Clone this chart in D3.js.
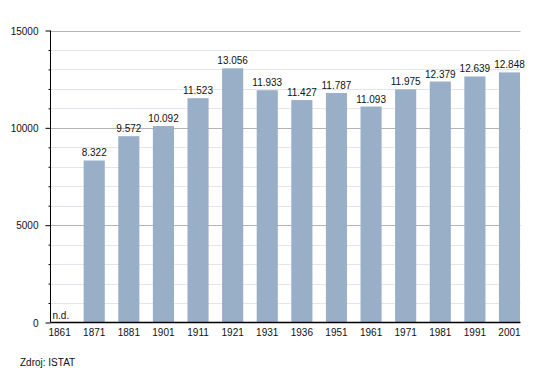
<!DOCTYPE html>
<html><head><meta charset="utf-8">
<script src="https://cdn.jsdelivr.net/npm/d3@7"></script>
<style>body{margin:0;background:#fff}svg{display:block}text{font-family:"Liberation Sans",Arial,sans-serif;font-size:10px;fill:#111}</style>
</head><body>
<svg id="c" width="550" height="373"></svg>
<script>
const years = ["1861","1871","1881","1901","1911","1921","1931","1936","1951","1961","1971","1981","1991","2001"];
const population = [null,8322,9572,10092,11523,13056,11933,11427,11787,11093,11975,12379,12639,12848];
const valueLabels = ["n.d.","8.322","9.572","10.092","11.523","13.056","11.933","11.427","11.787","11.093","11.975","12.379","12.639","12.848"];
const majorTicks = [0,5000,10000,15000];
const minorTicks = d3.range(1000,15000,1000).filter(v=>v%5000!==0);
const source = "Zdroj: ISTAT";

const svg = d3.select("#c");
const mLeft = 50.5, mRight = 520.5, mTop = 30.5, mBottom = 322.5;
const y = d3.scaleLinear().domain([0,15000]).range([mBottom, mTop]);
const x = d3.scaleBand().domain(years).range([42.3, 526.8]).paddingInner(0.39).paddingOuter(0.195);
const FONT = '"Liberation Sans",Arial,sans-serif';

// minor gridlines
svg.append("g").selectAll("line").data(minorTicks).join("line")
  .attr("x1",mLeft).attr("x2",mRight).attr("y1",d=>Math.round(y(d))+0.5).attr("y2",d=>Math.round(y(d))+0.5)
  .attr("stroke","#e4e4ec").attr("stroke-width",1);
// major gridlines
svg.append("g").selectAll("line").data(majorTicks.filter(d=>d>0)).join("line")
  .attr("x1",mLeft).attr("x2",mRight).attr("y1",d=>Math.round(y(d))+0.5).attr("y2",d=>Math.round(y(d))+0.5)
  .attr("stroke","#b4b4b4").attr("stroke-width",1);

// bars
svg.append("g").selectAll("rect").data(years.map((yr,i)=>({yr,v:population[i]})).filter(d=>d.v!=null)).join("rect")
  .attr("x",d=>x(d.yr)).attr("width",x.bandwidth())
  .attr("y",d=>y(d.v)).attr("height",d=>mBottom-y(d.v))
  .attr("fill","#98afc7");

// value labels
svg.append("g").selectAll("text").data(years.map((yr,i)=>({yr,v:population[i],t:valueLabels[i]}))).join("text")
  .attr("x",d=>d.v==null? mLeft+2 : x(d.yr)+x.bandwidth()/2)
  .attr("y",d=>d.v==null? mBottom-4 : y(d.v)-4)
  .attr("text-anchor",d=>d.v==null?"start":"middle")
  .text(d=>d.t);

// y axis
const yAxis = d3.axisLeft(y).tickValues(majorTicks).tickSize(5).tickFormat(d3.format("d"));
const gy = svg.append("g").attr("transform",`translate(${mLeft},0)`).call(yAxis);
gy.select(".domain").remove();
gy.selectAll(".tick line").attr("stroke","#000");
gy.selectAll(".tick text").attr("x",-12).attr("dy","0.35em").style("font-family",FONT).style("font-size","10px").attr("fill","#111");
const gyMinor = svg.append("g").attr("transform",`translate(${mLeft},0)`).call(d3.axisLeft(y).tickValues(minorTicks).tickSize(2).tickFormat(""));
gyMinor.select(".domain").remove();
gyMinor.selectAll(".tick line").attr("stroke","#000");
svg.append("line").attr("x1",mLeft).attr("x2",mLeft).attr("y1",mTop).attr("y2",mBottom).attr("stroke","#000");

// x axis
const gx = svg.append("g").attr("transform",`translate(0,${mBottom})`).call(d3.axisBottom(x).tickSize(0).tickPadding(6));
gx.select(".domain").remove();
gx.selectAll(".tick text").style("font-family",FONT).style("font-size","10px").attr("fill","#111");
svg.append("line").attr("x1",mLeft).attr("x2",mRight).attr("y1",mBottom).attr("y2",mBottom).attr("stroke","#000").attr("stroke-width",1.5);

svg.append("text").attr("x",20).attr("y",366).text(source);
</script>
</body></html>
